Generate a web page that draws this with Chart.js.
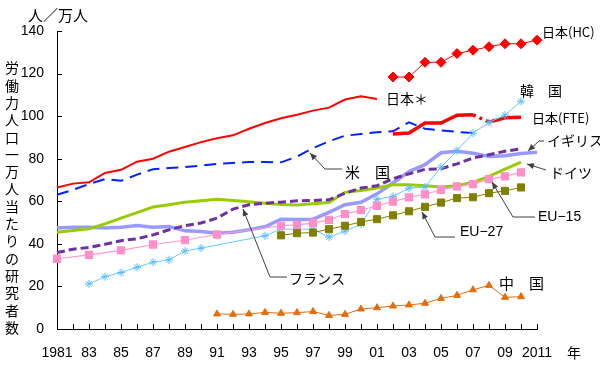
<!DOCTYPE html>
<html><head><meta charset="utf-8">
<script src="https://cdn.jsdelivr.net/npm/chart.js@4/dist/chart.umd.min.js"></script>
<style>html,body{margin:0;padding:0;background:#fff}#wrap{width:600px;height:371px;position:relative}</style>
</head><body><div id="wrap"><canvas id="c" width="600" height="371"></canvas></div>
<script>
const years = ['1981','1982','1983','1984','1985','1986','1987','1988','1989','1990','1991','1992','1993','1994','1995','1996','1997','1998','1999','2000','2001','2002','2003','2004','2005','2006','2007','2008','2009','2010','2011'];
const xTickLabels = ['1981','','83','','85','','87','','89','','91','','93','','95','','97','','99','','01','','03','','05','','07','','09','','2011'];
const yTickValues = [0,20,40,60,80,100,120,140];
const _ = null;
const japanHC   = [_,_,_,_,_,_,_,_,_,_,_,_,_,_,_,_,_,_,_,_,_,118.4,118.4,125.3,125.3,129.4,131,132.6,134,134,135.7];
const japanStar = [66.5,68.3,68.9,73.3,74.8,78.6,80,83.3,85.5,87.8,89.6,91,94.1,96.8,99,100.7,102.6,104,107.8,109.3,108.1,_,_,_,_,_,_,_,_,_,_];
const japanFTE  = [_,_,_,_,_,_,_,_,_,_,_,_,_,_,_,_,_,_,_,_,_,91.6,92.1,96.8,96.8,100.4,100.6,97.2,99.2,99.5,_];
const usa       = [63.1,65.4,68.1,70.4,69.6,72.5,75.1,75.6,76.1,76.7,77.6,78,78.4,78.4,78.3,81,85,88.2,90.8,91.6,92.4,92.9,97.1,94.1,93.3,92.6,92.1,_,_,_,_];
const korea     = [_,_,21.2,24.6,26.5,29,31.4,32.5,36.7,38,_,_,_,43.8,47,46.9,46.9,43.2,46,49.2,61,62.3,66.2,66.7,76,83.8,92,97,100.5,107,_];
const uk        = [35.9,37.5,38.3,39.8,41.5,42.4,44.2,46.6,48.6,49.8,52.1,56.3,58.4,59.1,59.6,60.2,60.4,60.7,63.8,66.2,67.3,70.6,72.9,75,75.3,77.6,80.3,81.9,83.5,84.7,_];
const france    = [47.4,47.8,47.8,47.5,47.8,48.6,47.8,48.2,46.1,45.8,45,45.5,46.6,48,51.6,51.5,51.6,54.8,58.4,59.5,63.5,68.6,74,77.2,82.8,83.5,82.6,81.1,81.4,82.4,83];
const germany   = [45.4,46.3,47.1,49.4,52.1,54.7,57.3,58.4,59.6,60.2,60.9,60.4,59.8,59.1,58.5,58.2,58.8,59.4,64.2,65.1,66.2,67.8,67.8,67.3,66.7,67.3,68.9,71.7,75.1,78.4,_];
const eu15      = [33,_,34.8,_,36.9,_,39.7,_,41.7,_,44.4,_,_,_,48.5,48.9,49.7,51.3,54,55.8,57.9,59.9,61.8,63.3,65.4,67,68.1,70.4,71.7,73.6,_];
const eu27      = [_,_,_,_,_,_,_,_,_,_,_,_,_,_,44,45,45.3,46.9,48.5,50.3,51.6,53.4,55.3,57.4,59.4,61.5,61.9,63.8,64.9,66.5,_];
const china     = [_,_,_,_,_,_,_,_,_,_,7.1,6.9,7.1,7.8,7.4,7.7,8.2,6.4,6.9,9.4,10,10.8,11.3,12.1,14.4,15.8,18.4,20.5,14.9,15.2,_];

const yTitle = '労働力人口一万人当たりの研究者数';
const JP = '"Noto Sans CJK JP", sans-serif';
const LAT = '"Liberation Sans", Arial, sans-serif';

const labels = [
  {t:'人／万人', x:28, y:15, f:'15px '+JP},
  {t:'年', x:567, y:353, f:'14px '+JP},
  {t:'日本(HC)', x:542, y:32, f:'13px '+JP},
  {t:'日本＊', x:386, y:99, f:'14px '+JP},
  {t:'韓　国', x:520, y:91, f:'14px '+JP},
  {t:'日本(FTE)', x:532, y:118, f:'13px '+JP},
  {t:'イギリス', x:547, y:141, f:'14px '+JP},
  {t:'ドイツ', x:550, y:173, f:'14px '+JP},
  {t:'EU−15', x:538, y:217, f:'14px '+LAT},
  {t:'EU−27', x:460, y:232, f:'14px '+LAT},
  {t:'米　国', x:345, y:172, f:'15px '+JP},
  {t:'フランス', x:289, y:279, f:'14px '+JP},
  {t:'中　国', x:499, y:283, f:'15px '+JP}
];
const leaders = [
  [[342,169],[325,169],[310,153]],
  [[287,277],[270,277],[243,209]],
  [[455,237],[435,237],[422,212]],
  [[535,217],[513,217],[492,182]],
  [[546,170],[527,164]],
  [[544,141],[539,141],[528,151]]
];

const deco = {
  id:'deco',
  afterDraw(chart){
    const ctx = chart.ctx, xs = chart.scales.x, ys = chart.scales.y;
    ctx.save();
    ctx.strokeStyle = '#000'; ctx.lineWidth = 1;
    ctx.beginPath();
    yTickValues.forEach(v=>{ const y = Math.round(ys.getPixelForValue(v))+0.5; ctx.moveTo(xs.left, y); ctx.lineTo(xs.left+5, y); });
    years.forEach((yr,i)=>{ if(i===0) return; const x = Math.round(xs.getPixelForValue(i))+0.5; ctx.moveTo(x, ys.bottom); ctx.lineTo(x, ys.bottom-5); });
    ctx.stroke();
    ctx.fillStyle = '#000'; ctx.textBaseline = 'middle'; ctx.textAlign = 'center';
    ctx.font = '14px '+JP;
    [...yTitle].forEach((ch,i)=>{ ctx.fillText(ch, 12, 68 + i*17.3); });
    ctx.textAlign = 'left';
    labels.forEach(l=>{ ctx.font = l.f; ctx.fillText(l.t, l.x, l.y); });
    ctx.strokeStyle = '#404040'; ctx.fillStyle = '#404040';
    leaders.forEach(p=>{
      ctx.beginPath(); ctx.moveTo(p[0][0], p[0][1]);
      for(let i=1;i<p.length;i++) ctx.lineTo(p[i][0], p[i][1]);
      ctx.stroke();
      const a = p[p.length-2], b = p[p.length-1];
      const ang = Math.atan2(b[1]-a[1], b[0]-a[0]);
      ctx.beginPath(); ctx.moveTo(b[0], b[1]);
      ctx.lineTo(b[0]-7*Math.cos(ang)+3*Math.sin(ang), b[1]-7*Math.sin(ang)-3*Math.cos(ang));
      ctx.lineTo(b[0]-7*Math.cos(ang)-3*Math.sin(ang), b[1]-7*Math.sin(ang)+3*Math.cos(ang));
      ctx.closePath(); ctx.fill();
    });
    ctx.restore();
  }
};

function ds(data, color, width, extra){
  return Object.assign({data, borderColor:color, backgroundColor:color, borderWidth:width, pointRadius:0, pointHoverRadius:0, spanGaps:true, tension:0, fill:false}, extra||{});
}
const datasets = [
  ds(japanHC, '#FF0000', 1, {pointRadius:5, pointStyle:'rectRot', pointBackgroundColor:'#FF0000', pointBorderColor:'#FF0000'}),
  ds(china, '#E46C0A', 1, {pointRadius:4, pointStyle:'triangle', pointBackgroundColor:'#E46C0A', pointBorderColor:'#E46C0A'}),
  ds(eu27, '#808000', 1, {pointRadius:5, pointStyle:'rect', pointBackgroundColor:'#808000', pointBorderColor:'#808000'}),
  ds(eu15, '#FF99CC', 1.2, {pointRadius:5, pointStyle:'rect', pointBackgroundColor:'#FF8FC8', pointBorderColor:'#FF8FC8'}),
  ds(korea, '#66CCFF', 1, {pointRadius:4, pointStyle:'star', pointBorderColor:'#55BBFF', pointBorderWidth:1}),
  ds(japanStar, '#FF0000', 2),
  ds(japanFTE, '#FF0000', 3.5, {segment:{borderDash: c => c.p0DataIndex === 26 ? [3,4] : undefined}}),
  ds(usa, '#0022FF', 2, {borderDash:[12,7]}),
  ds(uk, '#7030A0', 3, {borderDash:[8,4]}),
  ds(germany, '#99CC00', 3),
  ds(france, '#9999FF', 3.5)
];

new Chart(document.getElementById('c'), {
  type:'line',
  data:{labels:years, datasets},
  options:{
    responsive:false, animation:false, devicePixelRatio:1,
    layout:{padding:{left:0, right:63, top:31, bottom:0}},
    plugins:{legend:{display:false}, tooltip:{enabled:false}},
    scales:{
      x:{type:'category', offset:false,
        grid:{display:false, drawTicks:false},
        border:{display:true, color:'#000', width:1},
        ticks:{autoSkip:false, maxRotation:0, minRotation:0, padding:16, color:'#000', font:{family:'"Liberation Sans", Arial, sans-serif', size:14},
          callback:(v,i)=>xTickLabels[i]},
        afterFit:s=>{s.height=42;}
      },
      y:{min:0, max:140,
        grid:{display:false, drawTicks:false},
        border:{display:true, color:'#000', width:1},
        ticks:{stepSize:20, padding:13, color:'#000', font:{family:'"Liberation Sans", Arial, sans-serif', size:14}},
        afterFit:s=>{s.width=57;}
      }
    }
  },
  plugins:[deco]
});
</script></body></html>
